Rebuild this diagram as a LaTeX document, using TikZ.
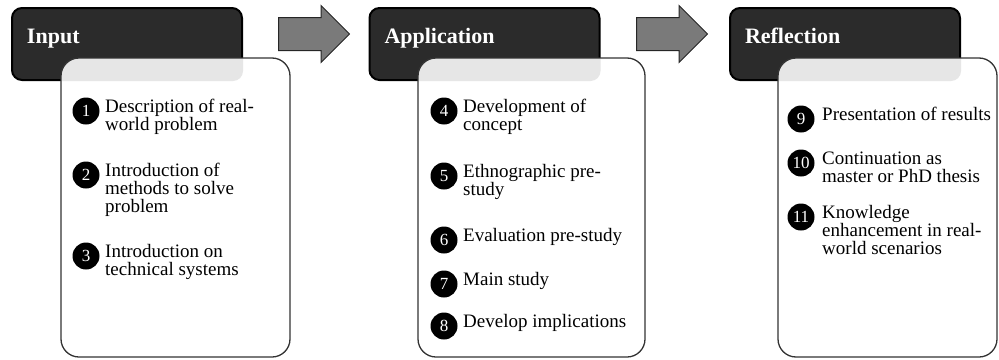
\documentclass[tikz,border=0pt]{standalone}
\usepackage{fontspec}
\setmainfont{Liberation Serif}
\usetikzlibrary{calc}
\usetikzlibrary{positioning}
\usetikzlibrary{shapes.arrows}

\definecolor{headfill}{HTML}{2B2B2B}
\definecolor{arrowfill}{HTML}{7A7A7A}
\definecolor{stripfill}{HTML}{E6E6E6}

\begin{document}
\begin{tikzpicture}[x=1pt,y=-1pt,
  phase head/.style={draw=black,line width=2pt,fill=headfill,rounded corners=10pt,
    minimum width=230pt,minimum height=72pt,text width=200pt,align=left,
    text height=15pt,text depth=17pt,text=white,
    font=\fontsize{22}{24}\selectfont\bfseries},
  phase box/.style={draw=black!80,line width=1.3pt,fill=white,rounded corners=18pt,
    minimum height=299pt,inner sep=0pt,
    path picture={\fill[stripfill,rounded corners=10pt]
      ($(path picture bounding box.north west)+(-20,-20)$) rectangle (#1.south east);}},
  phase arrow/.style={single arrow,draw=black!85,line width=1pt,fill=arrowfill,
    minimum height=71pt,inner xsep=0pt,inner ysep=16pt,single arrow head extend=12pt,
    single arrow tip angle=90,anchor=tail},
  num/.style={circle,fill=black,text=white,minimum size=27pt,inner sep=0pt,
    font=\fontsize{17}{17}\selectfont},
  item/.style={anchor=north west,align=left,inner sep=0pt,
    font=\fontsize{19}{18}\selectfont}]
  \useasboundingbox (0,0) rectangle (999,359);

  % phase headers
  \node[phase head] (hin) at (127,44) {Input};
  \node[phase head] (happ) at (484.5,44) {Application};
  \node[phase head] (href) at (845,44) {Reflection};

  % content boxes
  \node[phase box=hin,minimum width=229pt] (bin) at (175.5,207.5) {};
  \node[phase box=happ,minimum width=227pt] (bapp) at (531.5,207.5) {};
  \node[phase box=href,minimum width=219pt] (bref) at (887.5,207.5) {};

  % arrows between phases
  \node[phase arrow] (a1) at (278,34) {};
  \node[phase arrow] (a2) at (636,34) {};

  % input
  \node[num] (n1) at (86,111) {1};
  \node[item] (t1) at ($(n1.north)+(19,2)$) {Description of real-\\world problem};
  \node[num] (n2) at (86,175) {2};
  \node[item] (t2) at ($(n2.north)+(19,2)$) {Introduction of\\methods to solve\\problem};
  \node[num] (n3) at (86,256) {3};
  \node[item] (t3) at ($(n3.north)+(19,2)$) {Introduction on\\technical systems};

  % application
  \node[num] (n4) at (444,111) {4};
  \node[item] (t4) at ($(n4.north)+(19,2)$) {Development of\\concept};
  \node[num] (n5) at (444,176) {5};
  \node[item] (t5) at ($(n5.north)+(19,2)$) {Ethnographic pre-\\study};
  \node[num] (n6) at (444,240) {6};
  \node[item] (t6) at ($(n6.north)+(19,2)$) {Evaluation pre-study};
  \node[num] (n7) at (444,284) {7};
  \node[item] (t7) at ($(n7.north)+(19,2)$) {Main study};
  \node[num] (n8) at (444,326) {8};
  \node[item] (t8) at ($(n8.north)+(19,2)$) {Develop implications};

  % reflection
  \node[num] (n9) at (801,119) {9};
  \node[item] (t9) at ($(n9.north)+(21,2)$) {Presentation of results};
  \node[num] (n10) at (801,163) {10};
  \node[item] (t10) at ($(n10.north)+(21,2)$) {Continuation as\\master or PhD thesis};
  \node[num] (n11) at (801,217) {11};
  \node[item] (t11) at ($(n11.north)+(21,2)$) {Knowledge\\enhancement in real-\\world scenarios};
\end{tikzpicture}
\end{document}
